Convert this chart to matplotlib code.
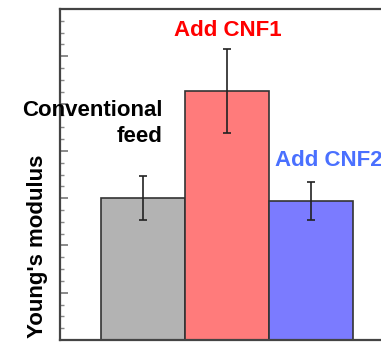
import matplotlib
matplotlib.use("Agg")
import matplotlib.pyplot as plt
from matplotlib.ticker import MultipleLocator

# データ (目盛りの数値は元図に無いので相対値)
groups = ["Conventional\nfeed", "Add CNF1", "Add CNF2"]
modulus = [3.0, 5.27, 2.94]
modulus_err = [0.47, 0.89, 0.41]
bar_colors = ["#b3b3b3", "#ff7b7b", "#7b7bff"]
label_colors = ["black", "#ff0000", "#4a70ff"]

plt.rcParams["font.family"] = ["Liberation Sans", "DejaVu Sans"]

fig = plt.figure(figsize=(3.81, 3.42), dpi=100)
ax = fig.add_axes([60 / 381, 2 / 342, 1 - 60 / 381, 331 / 342])

x = list(range(len(groups)))
ax.bar(x, modulus, width=1.0, color=bar_colors, edgecolor="#333333", linewidth=1.2,
       yerr=modulus_err, capsize=3.2, error_kw=dict(ecolor="#222222", elinewidth=1.2, capthick=1.2))

ax.set_xlim(-0.993, 2.83)
ax.set_ylim(0, 7)

# 軸の体裁
ax.spines["right"].set_visible(False)
for s in ["left", "top", "bottom"]:
    ax.spines[s].set_linewidth(1.6)
    ax.spines[s].set_color("#444444")
ax.yaxis.set_major_locator(MultipleLocator(1))
ax.yaxis.set_minor_locator(MultipleLocator(0.25))
ax.tick_params(axis="y", which="major", direction="in", length=6, width=1.2, color="#777777", labelleft=False)
ax.tick_params(axis="y", which="minor", direction="in", length=3, width=1.0, color="#888888")
ax.tick_params(axis="x", bottom=False, labelbottom=False)

# ラベル
ax.text(0.233, 4.19, groups[0], ha="right", va="baseline", fontsize=16, fontweight="bold",
        color=label_colors[0], linespacing=1.3)
ax.text(1.0, 6.43, groups[1], ha="center", va="baseline", fontsize=16, fontweight="bold",
        color=label_colors[1])
ax.text(1.567, 3.68, groups[2], ha="left", va="baseline", fontsize=16, fontweight="bold",
        color=label_colors[2])

fig.text(38 / 381, 1 - 155 / 342, "Young's modulus", rotation=90, ha="center", va="top",
         fontsize=16, fontweight="bold")

fig.savefig("out.png", dpi=100)
